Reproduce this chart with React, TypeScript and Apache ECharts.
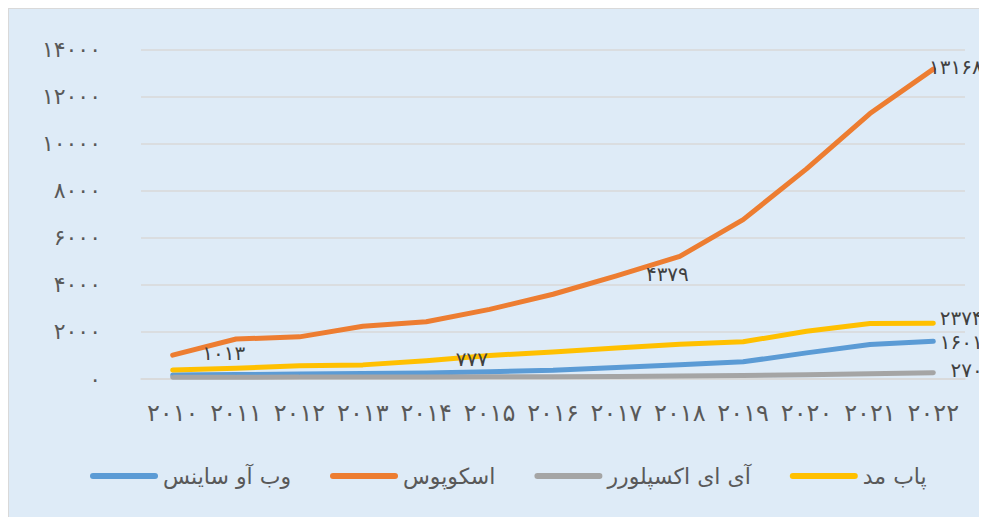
import React, { useEffect, useRef } from "react";
import * as echarts from "echarts";

const years = [2010, 2011, 2012, 2013, 2014, 2015, 2016, 2017, 2018, 2019, 2020, 2021, 2022];
const seriesNames = ["وب آو ساینس", "اسکوپوس", "آی ای اکسپلورر", "پاب مد"];
const webOfScience = [170, 190, 210, 230, 260, 310, 370, 490, 610, 730, 1110, 1470, 1601];
const scopus = [1013, 1700, 1790, 2240, 2430, 2960, 3600, 4379, 5210, 6770, 8930, 11280, 13168];
const ieeeXplore = [70, 75, 80, 85, 88, 92, 97, 110, 130, 150, 185, 225, 270];
const pubMed = [380, 460, 560, 600, 777, 1000, 1150, 1320, 1480, 1580, 2030, 2360, 2374];
const labeledPoints = [[12], [0, 7, 12], [12], [4, 12]];
const yTicks = { min: 0, max: 14000, interval: 2000 };

const colors = ["#5B9BD5", "#ED7D31", "#A5A5A5", "#FFC000"];
const endLabelDy = [1, -2, -2, -5];
const FONT = "DejaVu Sans";
const fa = (v: number | string) => String(v).replace(/\d/g, (d) => "۰۱۲۳۴۵۶۷۸۹"[+d]);

export default function App() {
  const ref = useRef<HTMLDivElement>(null);
  useEffect(() => {
    if (!ref.current) return;
    const chart = echarts.init(ref.current, null, { renderer: "svg" });
    const all = [webOfScience, scopus, ieeeXplore, pubMed];
    const last = years.length - 1;
    const series = all.map((vals, si) => ({
      name: seriesNames[si],
      type: "line",
      symbol: "circle",
      symbolSize: 1,
      showSymbol: true,
      lineStyle: { width: 5, color: colors[si], cap: "round", join: "round" },
      itemStyle: { color: colors[si] },
      label: { show: false },
      data: vals.map((v, i) => {
        if (!labeledPoints[si].includes(i)) return v;
        const isEnd = i === last;
        const common = {
          show: true,
          formatter: (p: any) => fa(p.value),
          fontFamily: FONT,
          fontSize: 20,
          lineHeight: 20,
          color: "#404040",
        };
        return {
          value: v,
          label: isEnd
            ? { ...common, position: [50, endLabelDy[si]], align: "right", verticalAlign: "middle" }
            : { ...common, position: "right", distance: 29, offset: [0, -2] },
        };
      }),
    }));
    chart.setOption({
      animation: false,
      backgroundColor: "#DEEBF7",
      color: colors,
      grid: { left: 132, right: 22, top: 40.5, bottom: 138, containLabel: false },
      legend: {
        bottom: 25,
        left: 76,
        itemWidth: 68,
        itemHeight: 6,
        itemGap: 39,
        icon: "path://M3,0 L65,0 A3,3 0 0 1 65,6 L3,6 A3,3 0 0 1 3,0 Z",
        textStyle: { fontFamily: FONT, fontSize: 22, color: "#595959" },
        data: seriesNames,
      },
      xAxis: {
        type: "category",
        data: years,
        boundaryGap: true,
        axisLine: { show: true, lineStyle: { color: "#D9D9D9", width: 1.5 } },
        axisTick: { show: false },
        axisLabel: {
          interval: 0,
          margin: 22,
          formatter: (v: string) => fa(v),
          fontFamily: FONT,
          fontSize: 24,
          color: "#595959",
        },
      },
      yAxis: {
        type: "value",
        min: yTicks.min,
        max: yTicks.max,
        interval: yTicks.interval,
        axisLine: { show: false },
        axisTick: { show: false },
        splitLine: { lineStyle: { color: "#D9D9D9", width: 1.5 } },
        axisLabel: {
          margin: 40,
          formatter: (v: number) => fa(v),
          fontFamily: FONT,
          fontSize: 22,
          color: "#595959",
        },
      },
      series,
    });
    return () => chart.dispose();
  }, []);
  return (
    <div
      ref={ref}
      style={{
        width: 979,
        height: 509,
        boxSizing: "border-box",
        borderLeft: "1px solid #D9D9D9",
        borderTop: "1px solid #D9D9D9",
        overflow: "hidden",
      }}
    />
  );
}
